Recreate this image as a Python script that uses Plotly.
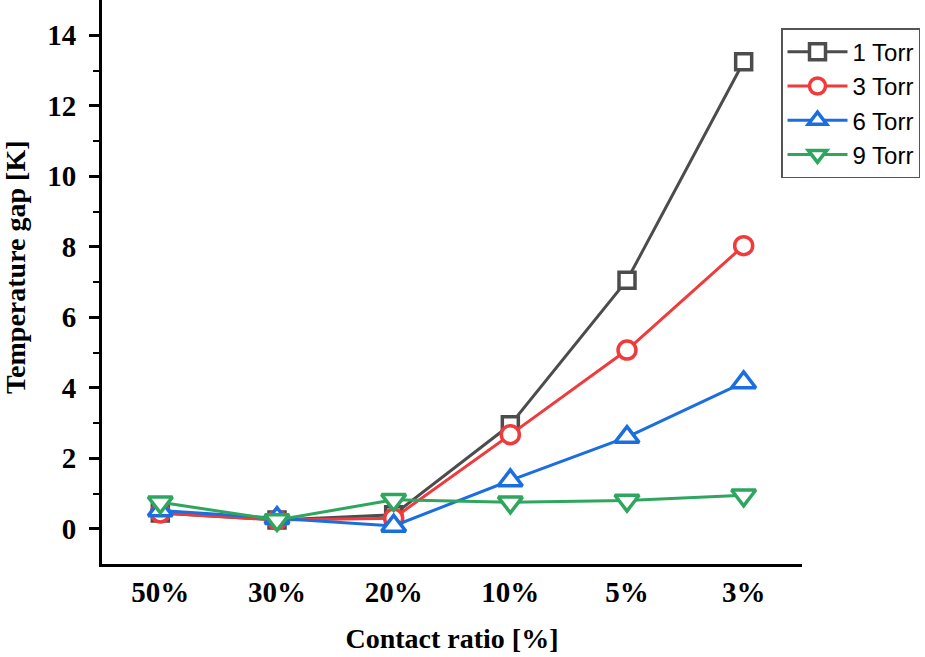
import plotly.graph_objects as go

categories = ["50%", "30%", "20%", "10%", "5%", "3%"]
series_names = ["1 Torr", "3 Torr", "6 Torr", "9 Torr"]
torr1 = [0.45, 0.25, 0.40, 2.95, 7.05, 13.25]
torr3 = [0.45, 0.25, 0.30, 2.67, 5.07, 8.03]
torr6 = [0.52, 0.30, 0.08, 1.37, 2.60, 4.15]
torr9 = [0.75, 0.25, 0.82, 0.75, 0.80, 0.95]

values = [torr1, torr3, torr6, torr9]
colors = ["#4C4C4C", "#EF3B3B", "#1B6EDF", "#2FA65E"]
symbols = ["square", "circle", "triangle-up", "triangle-down"]
sizes = [16, 18, 21, 21]

SERIF = "Liberation Serif, Times New Roman, serif"

fig = go.Figure()
for name, vals, col, sym, sz in zip(series_names, values, colors, symbols, sizes):
    fig.add_trace(go.Scatter(
        x=categories, y=vals, name=name, mode="lines+markers",
        line=dict(color=col, width=3),
        marker=dict(symbol=sym, size=sz, color="white",
                    line=dict(color=col, width=3.5)),
    ))

fig.update_layout(
    width=925, height=657,
    margin=dict(l=102, r=123, t=0, b=93),
    plot_bgcolor="white", paper_bgcolor="white",
    showlegend=True,
    legend=dict(
        x=0.97, y=0.95, xanchor="left", yanchor="top",
        bordercolor="#555555", borderwidth=1.5, bgcolor="white",
        font=dict(family="Liberation Sans, Arial, sans-serif", size=24, color="black"),
        itemwidth=60, tracegroupgap=0,
    ),
    xaxis=dict(
        type="category", range=[-0.5, 5.5], automargin=False,
        showline=True, linecolor="black", linewidth=3,
        ticks="", showgrid=False, zeroline=False,
        tickfont=dict(family=SERIF, size=29, color="black", weight="bold"),
        ticklabelstandoff=0,
        title=dict(text="Contact ratio [%]",
                   font=dict(family=SERIF, size=28, color="black", weight="bold"),
                   standoff=22),
    ),
    yaxis=dict(
        range=[-1, 15], tickvals=[0, 2, 4, 6, 8, 10, 12, 14], automargin=False,
        showline=True, linecolor="black", linewidth=3,
        ticks="outside", ticklen=10, tickwidth=2.5, tickcolor="black",
        minor=dict(tickvals=[1, 3, 5, 7, 9, 11, 13], ticks="outside", ticklen=6, tickwidth=2, tickcolor="black"),
        showgrid=False, zeroline=False,
        tickfont=dict(family=SERIF, size=29, color="black", weight="bold"),
        ticklabelstandoff=7,
    ),
    annotations=[dict(
        text="Temperature gap [K]", textangle=-90,
        xref="paper", yref="paper",
        x=-86 / 700, y=1 - 267 / 564, xanchor="center", yanchor="middle",
        showarrow=False,
        font=dict(family=SERIF, size=28, color="black", weight="bold"),
    )],
)

fig.write_html("out.html", config={"displayModeBar": False},
               post_script="document.body.style.margin='0';document.body.style.padding='0';")
